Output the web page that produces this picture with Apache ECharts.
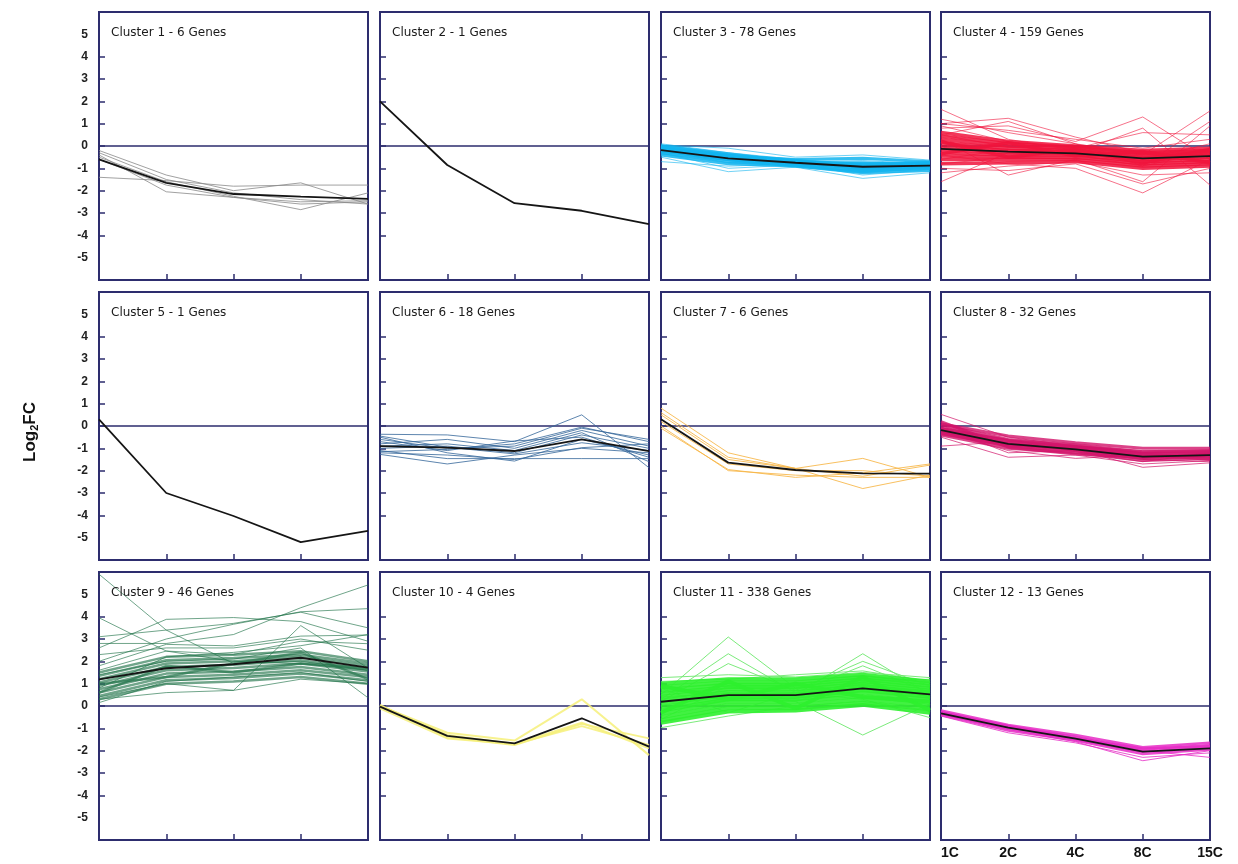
<!DOCTYPE html>
<html>
<head>
<meta charset="utf-8">
<script src="https://cdn.jsdelivr.net/npm/echarts@6/dist/echarts.min.js"></script>
<style>
html,body{margin:0;padding:0;background:#fff;}
#chart{width:1238px;height:864px;}
</style>
</head>
<body>
<div id="chart"></div>
<script>
// ---------- data ----------
const CATEGORIES = ['1C', '2C', '4C', '8C', '15C'];
const Y_TICK_LABELS = [-5, -4, -3, -2, -1, 0, 1, 2, 3, 4, 5];
const Y_TICKS = [-4, -3, -2, -1, 0, 1, 2, 3, 4];

const clusterTitles = [
  'Cluster 1 - 6 Genes', 'Cluster 2 - 1 Genes', 'Cluster 3 - 78 Genes', 'Cluster 4 - 159 Genes',
  'Cluster 5 - 1 Genes', 'Cluster 6 - 18 Genes', 'Cluster 7 - 6 Genes', 'Cluster 8 - 32 Genes',
  'Cluster 9 - 46 Genes', 'Cluster 10 - 4 Genes', 'Cluster 11 - 338 Genes', 'Cluster 12 - 13 Genes'
];

const c1Mean = [-0.6, -1.65, -2.15, -2.27, -2.37];
const c1Genes = [
  [-0.4, -2.05, -2.3, -2.6, -2.5],
  [-1.4, -1.55, -1.8, -1.75, -1.75],
  [-0.2, -1.3, -2.0, -1.65, -2.6],
  [-0.5, -1.6, -2.25, -2.85, -2.1],
  [-0.6, -1.75, -2.3, -2.5, -2.45],
  [-0.3, -1.5, -2.1, -2.4, -2.6]
];
const c1Core = [];

const c2Mean = [2.0, -0.85, -2.56, -2.9, -3.5];
const c2Genes = [];
const c2Core = [];

const c3Mean = [-0.18, -0.55, -0.75, -0.93, -0.88];
const c3Genes = [
  [0.1, -0.3, -0.6, -0.8, -0.7],
  [-0.5, -1.15, -0.95, -1.45, -1.2],
  [-0.7, -0.9, -0.8, -1.0, -0.95],
  [0.05, -0.1, -0.5, -0.4, -0.63],
  [-0.35, -0.65, -0.8, -1.3, -1.05],
  [-0.2, -0.75, -0.7, -0.65, -0.8],
  [-0.3, -1.0, -0.85, -0.9, -1.0]
];
const c3Core = [
  [0.0, -0.4, -0.65, -0.9, -0.75],
  [-0.1, -0.5, -0.7, -0.85, -0.8],
  [-0.2, -0.6, -0.8, -1.0, -0.9],
  [-0.3, -0.7, -0.85, -1.1, -1.0],
  [-0.4, -0.8, -0.9, -1.2, -1.1],
  [-0.15, -0.45, -0.6, -0.55, -0.7],
  [-0.25, -0.55, -0.75, -0.75, -0.85],
  [0.0, -0.35, -0.7, -0.95, -0.85],
  [-0.1, -0.6, -0.9, -1.15, -0.95],
  [-0.05, -0.5, -0.65, -1.05, -0.9],
  [-0.15, -0.4, -0.75, -0.8, -0.75]
];

const c4Mean = [-0.13, -0.25, -0.33, -0.55, -0.45];
const c4Genes = [
  [1.64, 0.3, -0.2, -0.6, -0.4],
  [1.0, 1.24, 0.4, -0.3, -0.5],
  [0.8, 0.9, 0.2, 1.3, -0.6],
  [0.5, 1.1, 0.1, -0.4, 1.57],
  [-1.6, -0.3, -0.4, -0.8, -0.3],
  [0.3, -1.3, -0.6, -0.5, -0.2],
  [-0.4, -0.8, -1.0, -2.1, -0.6],
  [0.2, -0.2, -0.3, 0.8, -1.75],
  [-0.8, -0.5, -0.6, -1.6, 0.9],
  [0.9, 0.2, -0.1, 0.6, 0.5],
  [-1.2, -0.9, -0.7, -1.3, -1.2],
  [1.2, 0.6, 0.1, -0.9, 1.1],
  [0.5, -0.05, -0.15, -0.6, 0.1],
  [-0.6, -0.15, -0.3, -0.35, -0.7],
  [0.15, -0.25, -0.4, -0.9, -0.25],
  [1.0, 0.7, 0.3, -0.1, 0.3],
  [-1.0, -1.1, -0.8, -1.7, -1.0]
];
const c4Core = [
  [0.6, 0.2, 0.0, -0.2, -0.1],
  [0.45, 0.1, -0.05, -0.3, -0.2],
  [0.3, 0.0, -0.1, -0.35, -0.25],
  [0.15, -0.1, -0.2, -0.45, -0.35],
  [0.0, -0.2, -0.25, -0.5, -0.4],
  [-0.15, -0.3, -0.3, -0.6, -0.5],
  [-0.3, -0.4, -0.4, -0.7, -0.6],
  [-0.45, -0.5, -0.5, -0.8, -0.7],
  [-0.6, -0.6, -0.6, -0.9, -0.8],
  [-0.8, -0.75, -0.7, -1.0, -0.9],
  [0.2, -0.5, -0.15, -0.75, -0.15],
  [-0.35, 0.15, -0.45, -0.25, -0.75]
];

const c5Mean = [0.3, -3.0, -4.03, -5.2, -4.7];
const c5Genes = [];
const c5Core = [];

const c6Mean = [-0.9, -0.97, -1.12, -0.6, -1.12];
const c6Genes = [
  [-0.37, -0.4, -0.7, 0.5, -1.87],
  [-0.6, -1.0, -0.9, -0.1, -0.6],
  [-1.27, -1.7, -1.3, -1.0, -1.2],
  [-1.1, -1.46, -1.46, -1.46, -1.46],
  [-0.8, -0.6, -1.0, -0.2, -0.9],
  [-0.5, -1.2, -1.57, -0.6, -1.3],
  [-1.0, -0.9, -1.2, -0.4, -1.0],
  [-0.7, -1.1, -0.67, -0.5, -1.4],
  [-1.2, -1.3, -1.5, -0.97, -0.8],
  [-0.9, -0.8, -1.1, -0.3, -1.6],
  [-0.45, -0.95, -1.25, -0.75, -1.1],
  [-1.15, -1.05, -0.8, -0.05, -0.7]
];
const c6Core = [];

const c7Mean = [0.3, -1.64, -1.97, -2.12, -2.13];
const c7Genes = [
  [0.8, -1.2, -1.9, -1.45, -2.3],
  [0.5, -1.5, -1.9, -2.8, -2.2],
  [-0.1, -1.95, -2.3, -2.1, -1.7],
  [0.2, -1.7, -2.0, -2.0, -2.25],
  [0.0, -2.0, -2.2, -2.3, -2.3],
  [0.6, -1.4, -1.9, -2.25, -1.75]
];
const c7Core = [];

const c8Mean = [-0.18, -0.8, -1.05, -1.37, -1.3];
const c8Genes = [
  [0.52, -0.5, -0.9, -1.1, -1.1],
  [-0.9, -0.7, -0.9, -1.2, -1.2],
  [-0.5, -1.4, -1.3, -1.7, -1.55],
  [0.0, -0.75, -1.05, -1.85, -1.65],
  [-0.25, -1.1, -1.45, -1.3, -1.4],
  [-0.15, -0.6, -1.15, -1.6, -1.2],
  [-0.05, -1.2, -1.1, -1.5, -1.6]
];
const c8Core = [
  [0.1, -0.45, -0.75, -1.0, -1.0],
  [-0.1, -0.65, -0.9, -1.2, -1.15],
  [-0.2, -0.8, -1.0, -1.35, -1.25],
  [-0.3, -0.9, -1.1, -1.45, -1.35],
  [-0.4, -1.0, -1.2, -1.55, -1.45],
  [0.05, -0.6, -0.85, -1.15, -1.1],
  [-0.1, -0.7, -0.95, -1.25, -1.2],
  [-0.25, -0.85, -1.05, -1.4, -1.3],
  [-0.35, -0.85, -0.95, -1.25, -1.5],
  [0.2, -0.95, -1.25, -1.4, -1.3]
];

const c9Mean = [1.19, 1.69, 1.87, 2.16, 1.72];
const c9Genes = [
  [5.9, 3.4, 1.9, 2.0, 1.6],
  [3.95, 2.46, 2.0, 1.9, 1.6],
  [3.1, 3.4, 3.7, 4.2, 3.5],
  [2.8, 2.8, 3.2, 4.4, 5.42],
  [2.6, 3.88, 3.96, 3.78, 2.9],
  [2.0, 3.0, 3.66, 4.22, 4.36],
  [1.8, 2.76, 2.69, 3.13, 3.18],
  [1.6, 2.46, 2.31, 2.9, 2.79],
  [1.4, 2.0, 2.1, 2.6, 0.37],
  [0.4, 1.0, 0.7, 3.6, 1.7],
  [0.3, 0.6, 0.7, 1.2, 1.0],
  [0.15, 1.1, 1.3, 1.5, 1.1],
  [2.3, 2.6, 2.6, 3.0, 2.5],
  [0.8, 2.2, 2.4, 2.7, 3.2]
];
const c9Core = [
  [1.5, 2.2, 2.3, 2.45, 2.0],
  [1.35, 2.05, 2.15, 2.3, 1.9],
  [1.2, 1.9, 2.0, 2.2, 1.8],
  [1.05, 1.75, 1.85, 2.05, 1.65],
  [0.9, 1.6, 1.7, 1.9, 1.55],
  [0.75, 1.45, 1.55, 1.75, 1.4],
  [0.6, 1.3, 1.4, 1.6, 1.3],
  [0.45, 1.15, 1.25, 1.45, 1.15],
  [0.3, 1.0, 1.1, 1.3, 1.0],
  [1.0, 1.3, 1.9, 2.4, 1.2],
  [0.6, 1.8, 1.5, 1.9, 1.7]
];

const c10Mean = [-0.03, -1.34, -1.67, -0.55, -1.82];
const c10Genes = [
  [0.0, -1.2, -1.55, 0.3, -2.2],
  [0.05, -1.4, -1.75, -0.8, -1.45],
  [-0.1, -1.45, -1.7, -0.75, -1.9],
  [0.0, -1.3, -1.7, -0.9, -1.75]
];
const c10Core = [];

const c11Mean = [0.19, 0.49, 0.49, 0.79, 0.52];
const c11Genes = [
  [0.5, 3.09, 0.8, 0.9, 0.6],
  [0.3, 2.34, 0.6, 1.0, 0.4],
  [0.2, 1.9, 0.7, 0.8, 0.7],
  [0.4, 0.6, 0.5, 2.34, 0.5],
  [0.6, 0.8, 0.7, 2.0, 0.9],
  [0.3, 0.7, 0.6, 1.8, 0.6],
  [-0.2, 0.3, 0.2, -1.3, 0.1],
  [-0.97, -0.45, 0.0, 0.2, -0.2],
  [1.27, 1.4, 1.3, 1.5, 1.27],
  [1.1, 1.2, 1.4, 1.57, 1.1],
  [0.8, -0.3, 0.6, 0.3, -0.52],
  [-0.6, 0.9, 0.2, 1.1, 1.2]
];
const c11Core = [
  [1.0, 1.2, 1.2, 1.4, 1.1],
  [0.85, 1.05, 1.05, 1.3, 1.0],
  [0.7, 0.95, 0.95, 1.2, 0.9],
  [0.55, 0.85, 0.85, 1.1, 0.8],
  [0.4, 0.75, 0.75, 1.0, 0.7],
  [0.25, 0.6, 0.6, 0.9, 0.6],
  [0.1, 0.5, 0.5, 0.8, 0.5],
  [-0.05, 0.4, 0.4, 0.7, 0.4],
  [-0.2, 0.3, 0.3, 0.6, 0.3],
  [-0.35, 0.2, 0.2, 0.45, 0.15],
  [-0.5, 0.05, 0.05, 0.3, 0.0],
  [-0.65, -0.1, -0.1, 0.15, -0.15],
  [-0.75, -0.25, -0.2, 0.05, -0.3],
  [0.9, 0.3, 1.0, 0.4, 0.2],
  [-0.3, 1.1, -0.1, 1.3, -0.2]
];

const c12Mean = [-0.33, -0.97, -1.46, -2.04, -1.9];
const c12Genes = [
  [-0.45, -1.2, -1.65, -2.3, -2.1],
  [-0.25, -0.95, -1.35, -2.0, -2.3],
  [-0.38, -1.05, -1.6, -2.45, -2.0]
];
const c12Core = [
  [-0.2, -0.85, -1.3, -1.85, -1.65],
  [-0.3, -0.9, -1.4, -1.95, -1.75],
  [-0.35, -1.0, -1.5, -2.05, -1.85],
  [-0.4, -1.1, -1.55, -2.15, -1.95],
  [-0.28, -0.92, -1.45, -1.9, -1.8]
];

const zeroLine = [0, 0, 0, 0, 0];

// ---------- styles ----------
const clusters = [
  { genes: c1Genes, core: c1Core, mean: c1Mean, color: '#8a8a8a', width: 1, opacity: 0.8 },
  { genes: c2Genes, core: c2Core, mean: c2Mean, color: '#222', width: 1, opacity: 1 },
  { genes: c3Genes, core: c3Core, mean: c3Mean, color: '#12b4ee', width: 1, opacity: 0.6, coreWidth: 3, coreOpacity: 0.85 },
  { genes: c4Genes, core: c4Core, mean: c4Mean, color: '#f0143c', width: 1, opacity: 0.6, coreWidth: 3.5, coreOpacity: 0.85 },
  { genes: c5Genes, core: c5Core, mean: c5Mean, color: '#222', width: 1, opacity: 1 },
  { genes: c6Genes, core: c6Core, mean: c6Mean, color: '#35679a', width: 1, opacity: 0.8 },
  { genes: c7Genes, core: c7Core, mean: c7Mean, color: '#f7b544', width: 1, opacity: 0.85 },
  { genes: c8Genes, core: c8Core, mean: c8Mean, color: '#d2146a', width: 1, opacity: 0.7, coreWidth: 3, coreOpacity: 0.8 },
  { genes: c9Genes, core: c9Core, mean: c9Mean, color: '#24744c', width: 1, opacity: 0.65, coreWidth: 2.5, coreOpacity: 0.65 },
  { genes: c10Genes, core: c10Core, mean: c10Mean, color: '#f6f07a', width: 2, opacity: 0.85 },
  { genes: c11Genes, core: c11Core, mean: c11Mean, color: '#6ee86e', width: 1, opacity: 0.9, coreColor: '#2df02d', coreWidth: 4, coreOpacity: 0.9 },
  { genes: c12Genes, core: c12Core, mean: c12Mean, color: '#e62cc6', width: 1, opacity: 0.8, coreWidth: 2.5, coreOpacity: 0.85 }
];

const NAVY = '#2d2d6e';
const FONT = '"Liberation Sans", Arial, sans-serif';
const TITLE_FONT = '"DejaVu Sans", Verdana, sans-serif';
const colLefts = [99, 380, 661, 941];
const rowTops = [12, 292, 572];
const PW = 269, PH = 268;

const grids = [], xAxes = [], yAxes = [], titles = [], series = [];
function lineSeries(k, data, color, width, opacity, z) {
  return {
    type: 'line', xAxisIndex: k, yAxisIndex: k, data: data, symbol: 'none', silent: true,
    lineStyle: { color: color, width: width, opacity: opacity }, z: z, animation: false
  };
}
clusters.forEach((c, k) => {
  const row = Math.floor(k / 4), col = k % 4;
  grids.push({
    left: colLefts[col], top: rowTops[row], width: PW, height: PH,
    show: true, borderColor: NAVY, borderWidth: 2, backgroundColor: '#fff', containLabel: false
  });
  xAxes.push({
    type: 'category', gridIndex: k, data: CATEGORIES, boundaryGap: false, position: 'bottom',
    axisLine: { show: false, onZero: false },
    axisTick: { show: true, inside: true, length: 6, lineStyle: { color: NAVY, width: 1.5 },
      interval: (i) => i > 0 && i < 4 },
    axisLabel: k === 11 ? { show: true, interval: 0, color: '#111', fontSize: 14, fontWeight: 'bold',
      fontFamily: FONT, margin: 6, alignMinLabel: 'left', alignMaxLabel: 'center' } : { show: false },
    splitLine: { show: false }
  });
  yAxes.push({
    type: 'value', gridIndex: k, min: -6, max: 6, interval: 1,
    axisLine: { show: false, onZero: false },
    axisTick: { show: true, inside: true, length: 6, customValues: Y_TICKS, lineStyle: { color: NAVY, width: 1.5 } },
    axisLabel: col === 0 ? { show: true, customValues: Y_TICK_LABELS, color: '#222', fontSize: 12,
      fontWeight: 'bold', fontFamily: FONT, margin: 11 } : { show: false },
    splitLine: { show: false }
  });
  titles.push({
    text: clusterTitles[k], left: colLefts[col] + 12, top: rowTops[row] + 15, padding: 0,
    textStyle: { fontSize: 12, fontWeight: 'normal', color: '#1a1a1a', fontFamily: TITLE_FONT }
  });
  series.push(lineSeries(k, zeroLine, NAVY, 1.3, 1, 1));
  c.genes.forEach(g => series.push(lineSeries(k, g, c.color, c.width, c.opacity, 2)));
  c.core.forEach(g => series.push(lineSeries(k, g, c.coreColor || c.color, c.coreWidth, c.coreOpacity, 2)));
  series.push(lineSeries(k, c.mean, '#151515', 1.8, 1, 3));
});

const chart = echarts.init(document.getElementById('chart'), null, { renderer: 'canvas' });
chart.setOption({
  backgroundColor: '#fff',
  animation: false,
  title: titles,
  grid: grids,
  xAxis: xAxes,
  yAxis: yAxes,
  series: series,
  graphic: [{
    type: 'text', x: 30, y: 432, rotation: Math.PI / 2,
    style: {
      text: '{a|Log}{b|2}{a|FC}', align: 'center', verticalAlign: 'middle',
      rich: {
        a: { fontSize: 17, fontWeight: 'bold', fill: '#111', fontFamily: FONT },
        b: { fontSize: 11, fontWeight: 'bold', fill: '#111', fontFamily: FONT, padding: [10, 0, 0, 0] }
      }
    }
  }]
});
</script>
</body>
</html>
